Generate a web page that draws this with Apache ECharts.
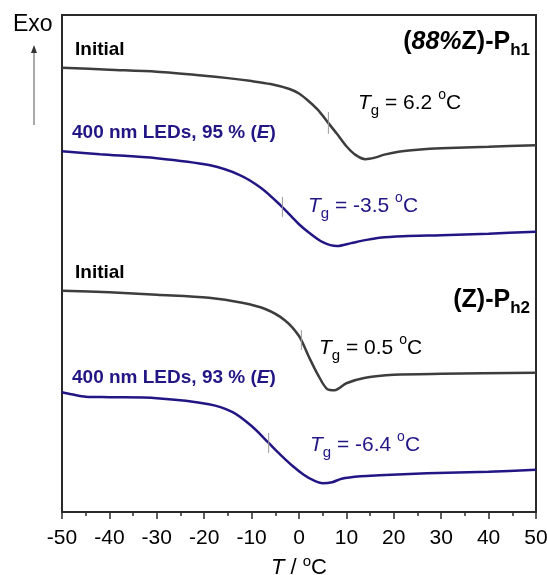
<!DOCTYPE html>
<html>
<head>
<meta charset="utf-8">
<script src="https://cdn.jsdelivr.net/npm/echarts@6/dist/echarts.min.js"></script>
<style>
  html, body { margin: 0; padding: 0; background: #fff; }
  #chart { width: 547px; height: 575px; }
</style>
</head>
<body>
<div id="chart"></div>
<script>
// DSC traces, heat flow in arbitrary units (Exo up)
var initial1T = [-50, -40, -30, -20, -15, -10, -6, -2, 0, 2, 4, 6, 8, 10, 12, 14, 16, 18, 21, 25, 30, 40, 50];
var initial1V = [89.4, 89.0, 88.6, 87.8, 87.3, 86.7, 86.1, 85.1, 84.2, 82.7, 80.9, 78.5, 76.1, 73.6, 71.8, 71.0, 71.3, 71.9, 72.5, 72.9, 73.2, 73.5, 73.8];

var led95T = [-50, -42, -30, -19, -12.5, -8, -4, 0, 2, 5, 8, 11, 14, 17, 22, 30, 40, 50];
var led95V = [72.6, 72.0, 71.2, 69.8, 67.8, 65.2, 61.8, 57.9, 56.3, 54.3, 53.5, 54.1, 54.7, 55.2, 55.5, 55.7, 56.0, 56.4];

var initial2T = [-50, -40, -30, -19, -12, -7, -3, 0, 2, 4, 6, 7.5, 10, 14, 20, 30, 50];
var initial2V = [44.5, 44.2, 43.7, 43.1, 42.1, 40.8, 38.6, 35.4, 31.4, 27.6, 24.7, 24.5, 25.9, 27.0, 27.6, 27.8, 28.0];

var led93T = [-50, -48, -45, -40, -30, -19, -14, -10, -6.4, -4, -1.4, 1, 3, 5, 7, 9, 13, 17, 27, 40, 50];
var led93V = [24.1, 23.7, 23.2, 23.1, 22.9, 21.7, 20.1, 17.3, 13.9, 11.6, 9.3, 7.5, 6.4, 5.8, 6.0, 6.7, 7.2, 7.4, 7.8, 8.1, 8.5];

// glass transition marks
var tgValues = [6.2, -3.5, 0.5, -6.4];
var tgMarkHigh = [80.5, 63.4, 36.6, 15.9];
var tgMarkLow = [76.1, 59.4, 32.6, 11.9];

var xTicks = [-50, -40, -30, -20, -10, 0, 10, 20, 30, 40, 50];

var GRAY = '#3d3d3d';
var NAVY = '#221685';
var FONT = '"Liberation Sans", Arial, sans-serif';

function pairs(xs, ys) {
  return xs.map(function (x, i) { return [x, ys[i]]; });
}

function curve(name, xs, ys, color) {
  return {
    name: name, type: 'line', smooth: 0.3, symbol: 'none',
    lineStyle: { color: color, width: 2.5 },
    data: pairs(xs, ys)
  };
}

var series = [
  curve('Initial 1', initial1T, initial1V, GRAY),
  curve('LED 95', led95T, led95V, NAVY),
  curve('Initial 2', initial2T, initial2V, GRAY),
  curve('LED 93', led93T, led93V, NAVY)
];
tgValues.forEach(function (t, i) {
  series.push({
    type: 'line', symbol: 'none', silent: true,
    lineStyle: { color: '#999', width: 1 },
    data: [[t, tgMarkLow[i]], [t, tgMarkHigh[i]]]
  });
});

// graphic text uses zrender styles: fill instead of color
function tgRich(color) {
  return {
    i: { fontFamily: FONT, fontSize: 21, fontStyle: 'italic', fill: color, lineHeight: 30, verticalAlign: 'middle' },
    sub: { fontFamily: FONT, fontSize: 15, fill: color, lineHeight: 30, verticalAlign: 'bottom' },
    n: { fontFamily: FONT, fontSize: 21, fill: color, lineHeight: 30, verticalAlign: 'middle' },
    sup: { fontFamily: FONT, fontSize: 14, fill: color, lineHeight: 30, verticalAlign: 'top' }
  };
}

function tgLabel(x, y, value, color) {
  return {
    type: 'text', x: x, y: y,
    style: {
      text: '{i|T}{sub|g}{n| = ' + value + ' }{sup|o}{n|C}',
      rich: tgRich(color), verticalAlign: 'middle'
    }
  };
}

function boldLabel(x, y, text, color) {
  return {
    type: 'text', x: x, y: y,
    style: {
      text: text, fill: color, font: 'bold 19px ' + FONT,
      align: 'left', verticalAlign: 'middle',
      rich: {
        bi: { fontFamily: FONT, fontSize: 19, fontWeight: 'bold', fontStyle: 'italic', fill: color },
        b: { fontFamily: FONT, fontSize: 19, fontWeight: 'bold', fill: color }
      }
    }
  };
}

function titleLabel(y, text) {
  return {
    type: 'text', x: 530, y: y,
    style: {
      text: text, align: 'right', verticalAlign: 'middle',
      rich: {
        b: { fontFamily: FONT, fontSize: 25, fontWeight: 'bold', fill: '#000', lineHeight: 34, verticalAlign: 'middle' },
        bi: { fontFamily: FONT, fontSize: 25, fontWeight: 'bold', fontStyle: 'italic', fill: '#000', lineHeight: 34, verticalAlign: 'middle' },
        s: { fontFamily: FONT, fontSize: 17, fontWeight: 'bold', fill: '#000', lineHeight: 34, verticalAlign: 'bottom' }
      }
    }
  };
}

var chart = echarts.init(document.getElementById('chart'));
chart.setOption({
  animation: false,
  backgroundColor: '#fff',
  grid: {
    left: 62, right: 11, top: 15, bottom: 63,
    containLabel: false, outerBoundsMode: 'none',
    show: true, borderColor: '#2a2a2a', borderWidth: 2
  },
  xAxis: {
    type: 'value', min: -50, max: 50, interval: 10,
    axisLine: { show: true, lineStyle: { color: '#2a2a2a', width: 2 } },
    axisTick: { show: true, inside: false, length: 7, lineStyle: { color: '#2a2a2a', width: 1.5 } },
    minorTick: { show: true, splitNumber: 2, length: 4, lineStyle: { color: '#2a2a2a', width: 1.5 } },
    splitLine: { show: false },
    axisLabel: {
      fontFamily: FONT, fontSize: 21, color: '#000', margin: 16,
      customValues: xTicks
    },
    name: '{i|T}{n| / }{sup|o}{n|C}',
    nameLocation: 'middle', nameGap: 42,
    nameTextStyle: {
      rich: {
        i: { fontFamily: FONT, fontSize: 22, fontStyle: 'italic', color: '#000', lineHeight: 28, verticalAlign: 'middle' },
        n: { fontFamily: FONT, fontSize: 22, color: '#000', lineHeight: 28, verticalAlign: 'middle' },
        sup: { fontFamily: FONT, fontSize: 15, color: '#000', lineHeight: 28, verticalAlign: 'top' }
      }
    }
  },
  yAxis: {
    type: 'value', min: 0, max: 100, show: false,
    splitLine: { show: false }
  },
  series: series,
  graphic: [
    { type: 'text', x: 13, y: 25, style: { text: 'Exo', font: '23px ' + FONT, fill: '#000', verticalAlign: 'middle' } },
    { type: 'line', shape: { x1: 34, y1: 125, x2: 34, y2: 50 }, style: { stroke: '#555', lineWidth: 1 } },
    { type: 'polygon', shape: { points: [[34, 45], [31, 53], [37, 53]] }, style: { fill: '#333' } },
    boldLabel(75, 50, 'Initial', '#000'),
    boldLabel(72, 133, '{b|400 nm LEDs, 95 % (}{bi|E}{b|)}', NAVY),
    boldLabel(75, 273, 'Initial', '#000'),
    boldLabel(72, 378, '{b|400 nm LEDs, 93 % (}{bi|E}{b|)}', NAVY),
    titleLabel(42, '{b|(}{bi|88%}{b|Z)-P}{s|h1}'),
    titleLabel(300, '{b|(Z)-P}{s|h2}'),
    tgLabel(358, 103, '6.2', '#000'),
    tgLabel(308, 206, '-3.5', NAVY),
    tgLabel(319, 348, '0.5', '#000'),
    tgLabel(310, 445, '-6.4', NAVY)
  ]
});
</script>
</body>
</html>
